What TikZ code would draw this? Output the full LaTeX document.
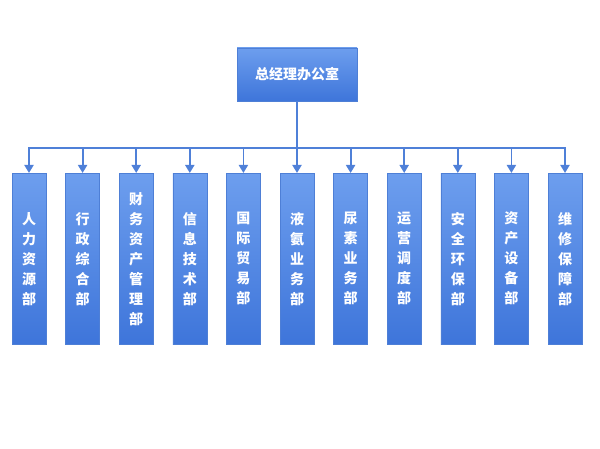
\documentclass[tikz,border=0pt]{standalone}
\usepackage{fontspec}
\newfontfamily\cjk{Noto Sans CJK SC}
\usetikzlibrary{arrows.meta,positioning}
\definecolor{boxtop}{HTML}{6D9EEE}
\definecolor{boxbot}{HTML}{3E75DA}
\definecolor{boxline}{HTML}{4E7FD6}
\definecolor{linkblue}{HTML}{4F80D8}

\begin{document}
\begin{tikzpicture}[x=1pt, y=1pt,
  every node/.style={draw=boxline, top color=boxtop, bottom color=boxbot,
    text=white, inner sep=0pt, font=\cjk\bfseries\fontsize{14}{20}\selectfont},
  head/.style={minimum width=120pt, minimum height=53pt},
  dept/.style={minimum width=34pt, minimum height=171pt, align=center, anchor=north},
  arr/.style={-{Triangle[length=8pt,width=9pt]}, draw=linkblue, line width=1.8pt}
]
  \useasboundingbox (0,0) rectangle (600,-449);
  \node[head] (gm) at (297,-74.5) {总经理办公室};
  \coordinate (bar) at (297,-148);

  \foreach \t [count=\n from 0] in {{人\\力\\资\\源\\部}, {行\\政\\综\\合\\部},
      {财\\务\\资\\产\\管\\理\\部}, {信\\息\\技\\术\\部}, {国\\际\\贸\\易\\部},
      {液\\氨\\业\\务\\部}, {尿\\素\\业\\务\\部}, {运\\营\\调\\度\\部},
      {安\\全\\环\\保\\部}, {资\\产\\设\\备\\部}, {维\\修\\保\\障\\部}}
  {
    \node[dept] (d\n) at (29+53.6*\n,-173) {\t};
    \draw[arr] (gm.south) -- (bar) -| (d\n.north);
  }
\end{tikzpicture}
\end{document}
